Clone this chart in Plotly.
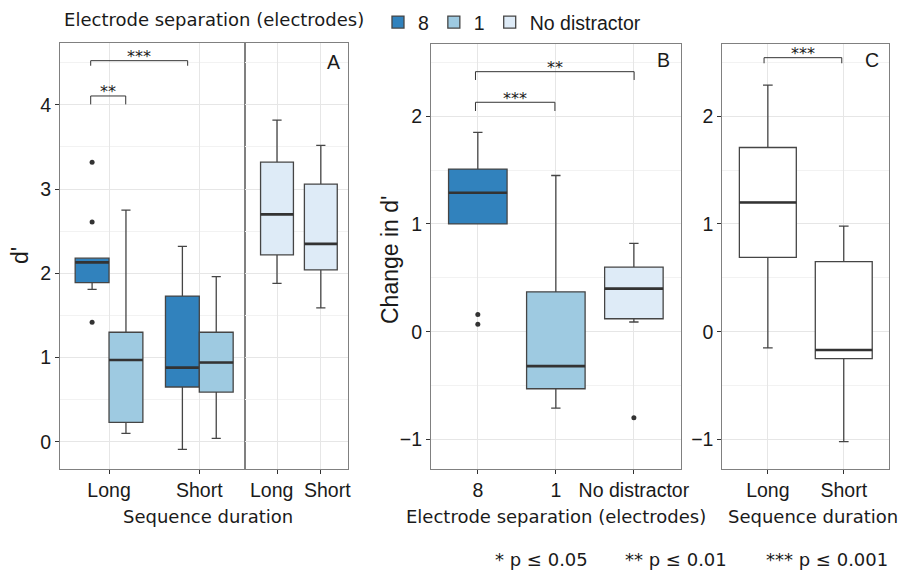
import plotly.graph_objects as go

# ---- data ----
durations = ["Long", "Short"]

# panel A, distractor present (boxes grouped by electrode separation)
a8_q1 = [1.89, 0.65]
a8_med = [2.13, 0.88]
a8_q3 = [2.18, 1.73]
a8_lo = [1.81, -0.09]
a8_hi = [2.18, 2.32]
a8_out = [[3.32, 2.61, 1.42], []]

a1_q1 = [0.23, 0.59]
a1_med = [0.97, 0.94]
a1_q3 = [1.30, 1.30]
a1_lo = [0.10, 0.04]
a1_hi = [2.75, 1.96]

# panel A, no distractor
and_q1 = [2.22, 2.04]
and_med = [2.70, 2.35]
and_q3 = [3.32, 3.06]
and_lo = [1.88, 1.59]
and_hi = [3.82, 3.52]

# panel B, change in d' by electrode separation
separations = ["8", "1", "No distractor"]
b_q1 = [1.00, -0.53, 0.12]
b_med = [1.29, -0.32, 0.40]
b_q3 = [1.51, 0.37, 0.60]
b_lo = [1.00, -0.71, 0.09]
b_hi = [1.85, 1.45, 0.82]
b_out = [[0.16, 0.07], [], [-0.80]]

# panel C, change in d' by sequence duration
c_q1 = [0.69, -0.25]
c_med = [1.20, -0.17]
c_q3 = [1.71, 0.65]
c_lo = [-0.15, -1.02]
c_hi = [2.29, 0.98]

colors = {"8": "#3182bd", "1": "#9ecae1", "No distractor": "#deebf7"}

LINE = "#454545"
TXT = "#1a1a1a"
SANS = "DejaVu Sans"
ARIAL = "Liberation Sans"

fig = go.Figure()


def box(x, q1, med, q3, lo, hi, fill, xa, ya, group, name, ww, show=False, pts=None):
    if pts is not None and any(len(p) for p in pts):
        kw = dict(y=pts, boxpoints="outliers")
    else:
        kw = dict(boxpoints=False)
    fig.add_trace(go.Box(
        x=x, q1=q1, median=med, q3=q3, lowerfence=lo, upperfence=hi,
        name=name, legendgroup=name, showlegend=show,
        fillcolor=fill, line=dict(color=LINE, width=1.3),
        marker=dict(color="#333333", size=5, line=dict(width=0)),
        whiskerwidth=ww, xaxis=xa, yaxis=ya,
        alignmentgroup=xa, offsetgroup=group, **kw,
    ))
    # thicker median bar, drawn as a collapsed box on top
    fig.add_trace(go.Box(
        x=x, q1=med, median=med, q3=med, lowerfence=med, upperfence=med,
        showlegend=False, hoverinfo="skip", boxpoints=False,
        fillcolor="rgba(0,0,0,0)", line=dict(color="#333333", width=2.6),
        whiskerwidth=0, xaxis=xa, yaxis=ya, alignmentgroup=xa, offsetgroup=group,
    ))


box(durations, a8_q1, a8_med, a8_q3, a8_lo, a8_hi, colors["8"], "x", "y", "8", "8", 0.27, True, a8_out)
box(durations, a1_q1, a1_med, a1_q3, a1_lo, a1_hi, colors["1"], "x", "y", "1", "1", 0.27, True)
box(durations, and_q1, and_med, and_q3, and_lo, and_hi, colors["No distractor"], "x2", "y2", "nd",
    "No distractor", 0.28, True)
for i, s in enumerate(separations):
    box([s], [b_q1[i]], [b_med[i]], [b_q3[i]], [b_lo[i]], [b_hi[i]], colors[s], "x3", "y3", "b", s, 0.16,
        False, [b_out[i]])
box(durations, c_q1, c_med, c_q3, c_lo, c_hi, "white", "x4", "y4", "c", "c", 0.17)

grid = "#e6e6e6"
minor = dict(dtick=0.5, showgrid=True, gridcolor="#f2f2f2", gridwidth=1)
TICKFONT = dict(family=ARIAL, size=19.5, color=TXT)
common_x = dict(type="category", showline=True, mirror=True, linecolor="#808080", linewidth=1,
                ticks="outside", ticklen=4, tickcolor="#333333", showgrid=True, gridcolor=grid,
                tickfont=TICKFONT, tickangle=0, zeroline=False)
common_y = dict(showline=True, mirror=True, linecolor="#808080", linewidth=1,
                ticks="outside", ticklen=4, tickcolor="#333333", showgrid=True, gridcolor=grid,
                tickfont=TICKFONT, zeroline=False, minor=minor, dtick=1)

W, H = 899, 572


def px(a, b):
    return [a / W, b / W]


def py(top, bottom):
    return [1 - bottom / H, 1 - top / H]


fig.update_layout(
    width=W, height=H, margin=dict(l=0, r=0, t=0, b=0, autoexpand=False),
    paper_bgcolor="white", plot_bgcolor="white",
    boxmode="group", boxgap=0.25, boxgroupgap=0,
    xaxis=dict(common_x, domain=px(60, 245), range=[-0.543, 1.506], anchor="y"),
    # narrow no-distractor facet: labels are placed as annotations below so they do not collide
    xaxis2=dict(common_x, domain=px(245, 348), range=[-0.73, 1.62], anchor="y2", showticklabels=False),
    xaxis3=dict(common_x, domain=px(431, 680.7), range=[-0.6, 2.6], anchor="y3",
                categoryorder="array", categoryarray=separations),
    xaxis4=dict(common_x, domain=px(722.3, 889.3), range=[-0.6, 1.6], anchor="y4"),
    yaxis=dict(common_y, domain=py(43, 469), range=[-0.324, 4.735], anchor="x"),
    yaxis2=dict(common_y, domain=py(43, 469), range=[-0.324, 4.735], anchor="x2",
                showticklabels=False, ticks=""),
    yaxis3=dict(common_y, domain=py(44, 469), range=[-1.275, 2.671], anchor="x3"),
    yaxis4=dict(common_y, domain=py(44, 469), range=[-1.275, 2.671], anchor="x4"),
    legend=dict(orientation="h", x=0.069, y=0.995, xanchor="left", yanchor="top",
                title=dict(text="Electrode separation (electrodes)&nbsp;",
                           font=dict(family=SANS, size=18, color=TXT), side="left"),
                font=dict(family=ARIAL, size=19.5, color=TXT), bgcolor="rgba(0,0,0,0)"),
)

for i, lab in enumerate(durations):
    fig.add_annotation(xref="x2", yref="y2 domain", x=i, y=0, yanchor="top", yshift=-8,
                       xshift=(-6, 7)[i], text=lab, showarrow=False, font=TICKFONT)

# significance brackets: (xref, yref, x0, x1, y, drop, label)
brackets = [
    ("x", "y", -0.203, 0.871, 4.525, 0.06, "***"),
    ("x", "y", -0.203, 0.185, 4.106, 0.10, "**"),
    ("x3", "y3", -0.03, 2.003, 2.414, 0.077, "**"),
    ("x3", "y3", -0.03, 0.988, 2.13, 0.081, "***"),
    ("x4", "y4", -0.05, 0.974, 2.544, 0.052, "***"),
]
for xr, yr, x0, x1, y, d, lab in brackets:
    ln = dict(color="#333333", width=1)
    fig.add_shape(type="line", xref=xr, yref=yr, x0=x0, x1=x1, y0=y, y1=y, line=ln)
    fig.add_shape(type="line", xref=xr, yref=yr, x0=x0, x1=x0, y0=y, y1=y - d, line=ln)
    fig.add_shape(type="line", xref=xr, yref=yr, x0=x1, x1=x1, y0=y, y1=y - d, line=ln)
    fig.add_annotation(xref=xr, yref=yr, x=(x0 + x1) / 2, y=y, text=lab, showarrow=False,
                       xanchor="center", yanchor="middle", yshift=4,
                       font=dict(family=SANS, size=16, color=TXT))

# panel letters
for xr, yr, x, y, lab in [("x2 domain", "y2 domain", 0.862, 0.955, "A"),
                          ("x3 domain", "y3 domain", 0.93, 0.962, "B"),
                          ("x4 domain", "y4 domain", 0.899, 0.962, "C")]:
    fig.add_annotation(xref=xr, yref=yr, x=x, y=y, text=lab, showarrow=False,
                       xanchor="center", yanchor="middle",
                       font=dict(family=ARIAL, size=19.5, color=TXT))

# axis titles
titles = [
    (207.5 / W, 1 - 516 / H, "Sequence duration", SANS, 18, 0),
    (556 / W, 1 - 516 / H, "Electrode separation (electrodes)", SANS, 18, 0),
    (813 / W, 1 - 516 / H, "Sequence duration", SANS, 18, 0),
    (20 / W, 1 - 256 / H, "d'", ARIAL, 23, -90),
    (390 / W, 1 - 260 / H, "Change in d'", ARIAL, 23, -90),
]
for x, y, t, fam, sz, ang in titles:
    fig.add_annotation(xref="paper", yref="paper", x=x, y=y, text=t, showarrow=False,
                       xanchor="center", yanchor="middle", textangle=ang,
                       font=dict(family=fam, size=sz, color=TXT))

# footer key
for x, t in [(493, "* p ≤ 0.05"), (623, "** p ≤ 0.01"), (764, "*** p ≤ 0.001")]:
    fig.add_annotation(xref="paper", yref="paper", x=x / W, y=1 - 559 / H, text=t, showarrow=False,
                       xanchor="left", yanchor="middle", font=dict(family=SANS, size=18, color=TXT))

fig.write_html("out.html", config={"displayModeBar": False},
               post_script="document.body.style.margin='0';")
